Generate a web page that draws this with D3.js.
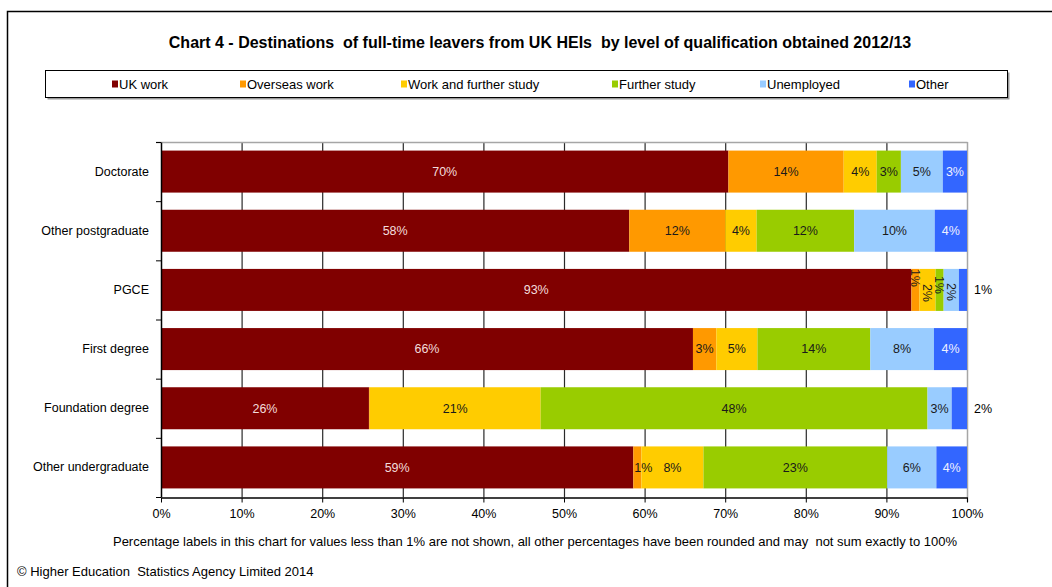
<!DOCTYPE html>
<html>
<head>
<meta charset="utf-8">
<script src="https://cdn.jsdelivr.net/npm/d3@7"></script>
<style>
  html, body { margin: 0; padding: 0; background: #fff; }
  svg text { font-family: "Liberation Sans", Arial, sans-serif; white-space: pre; }
</style>
</head>
<body>
<svg id="chart" width="1052" height="587"></svg>
<script>
// Destinations of full-time leavers from UK HEIs by level of qualification, 2012/13 (percent)
const categories = ["Doctorate", "Other postgraduate", "PGCE", "First degree", "Foundation degree", "Other undergraduate"];
const seriesNames = ["UK work", "Overseas work", "Work and further study", "Further study", "Unemployed", "Other"];
const ukWork          = [70.4, 58.1, 93.1, 66.0, 25.8, 58.6];
const overseasWork    = [14.3, 11.9,  1.0,  2.9,  0.1,  1.0];
const workAndStudy    = [ 4.1,  3.9,  2.0,  5.1, 21.2,  7.7];
const furtherStudy    = [ 3.0, 12.1,  1.0, 14.0, 48.0, 22.8];
const unemployed      = [ 5.2, 10.0,  1.9,  7.9,  3.0,  6.1];
const other           = [ 3.0,  4.0,  1.0,  4.1,  1.9,  3.8];
const xTicks = [0, 10, 20, 30, 40, 50, 60, 70, 80, 90, 100];

const seriesValues = [ukWork, overseasWork, workAndStudy, furtherStudy, unemployed, other];
const colors = ["#800000", "#FF9900", "#FFCC00", "#99CC00", "#99CCFF", "#3366FF"];

const rows = categories.map((c, i) => {
  const r = { category: c };
  seriesNames.forEach((s, j) => { r[s] = seriesValues[j][i]; });
  return r;
});
const stacked = d3.stack().keys(seriesNames)(rows);

const svg = d3.select("#chart");

// outer frame
svg.append("rect").attr("x", 7.5).attr("y", 11.5).attr("width", 1100).attr("height", 700)
  .attr("fill", "none").attr("stroke", "#000").attr("stroke-width", 1.5);

// title
svg.append("text").attr("x", 540).attr("y", 48).attr("text-anchor", "middle")
  .attr("font-size", "16px").attr("font-weight", "bold").attr("fill", "#000")
  .text("Chart 4 - Destinations  of full-time leavers from UK HEIs  by level of qualification obtained 2012/13");

// legend
const legendBox = { x: 45.5, y: 70.5, w: 962, h: 27 };
svg.append("rect").attr("x", legendBox.x + 2).attr("y", legendBox.y + 2)
  .attr("width", legendBox.w).attr("height", legendBox.h).attr("fill", "#9a9a9a");
svg.append("rect").attr("x", legendBox.x).attr("y", legendBox.y)
  .attr("width", legendBox.w).attr("height", legendBox.h).attr("fill", "#fff")
  .attr("stroke", "#000").attr("stroke-width", 1);
const legendX = [112, 240, 401, 612, 760, 909];
const legend = svg.append("g").selectAll("g").data(seriesNames).join("g")
  .attr("transform", (d, i) => `translate(${legendX[i]},84)`);
legend.append("rect").attr("x", 0).attr("y", -3.5).attr("width", 6).attr("height", 7)
  .attr("fill", (d, i) => colors[i]);
legend.append("text").attr("x", 7).attr("y", 4.5).attr("font-size", "13px").attr("fill", "#000")
  .text(d => d);

// scales
const x = d3.scaleLinear().domain([0, 100]).range([161, 967]);
const y = d3.scaleBand().domain(categories).range([142, 497]).paddingInner(0.29).paddingOuter(0.145);
const step = y.step();

// gridlines
svg.append("g").selectAll("line").data(xTicks.filter(t => t > 0 && t < 100)).join("line")
  .attr("x1", d => x(d) + 0.5).attr("x2", d => x(d) + 0.5)
  .attr("y1", 142).attr("y2", 497).attr("stroke", "#2a2a2a").attr("stroke-width", 1.2);

// plot border (top and right)
svg.append("line").attr("x1", 156).attr("x2", 967.5).attr("y1", 142.5).attr("y2", 142.5)
  .attr("stroke", "#a6a6a6").attr("stroke-width", 1.5);
svg.append("line").attr("x1", 967.5).attr("x2", 967.5).attr("y1", 142).attr("y2", 502)
  .attr("stroke", "#a6a6a6").attr("stroke-width", 1.5);

// bars
const layers = svg.append("g").selectAll("g").data(stacked).join("g")
  .attr("fill", (d, i) => colors[i]);
layers.selectAll("rect").data(d => d).join("rect")
  .attr("x", d => x(d[0]))
  .attr("width", d => x(d[1]) - x(d[0]))
  .attr("y", d => y(d.data.category))
  .attr("height", y.bandwidth());

// x axis
const xAxis = svg.append("g").attr("transform", "translate(0,497.5)")
  .call(d3.axisBottom(x).tickValues(xTicks).tickFormat(d => d + "%").tickSize(5).tickPadding(7).tickSizeOuter(0));
xAxis.select(".domain").attr("stroke", "#000").attr("stroke-width", 1.5);
xAxis.selectAll(".tick line").attr("stroke", "#000");
xAxis.selectAll("text").attr("font-size", "12.5px").attr("fill", "#000")
  .attr("font-family", "Liberation Sans, Arial, sans-serif");

// y axis: labels at category centres, ticks between categories
const yAxis = svg.append("g").attr("transform", "translate(161,0)")
  .call(d3.axisLeft(y).tickSize(0).tickPadding(12));
yAxis.select(".domain").attr("stroke", "#000").attr("stroke-width", 1.5);
yAxis.selectAll("text").attr("font-size", "12.5px").attr("fill", "#000")
  .attr("font-family", "Liberation Sans, Arial, sans-serif");
svg.append("g").selectAll("line").data(d3.range(categories.length + 1)).join("line")
  .attr("x1", 156).attr("x2", 161)
  .attr("y1", d => 142 + d * step + 0.5).attr("y2", d => 142 + d * step + 0.5)
  .attr("stroke", "#000").attr("stroke-width", 1);

// data labels
const labelNudge = {
  "Other undergraduate|Overseas work": { dx: 6, dy: 0 },
  "PGCE|Overseas work": { dx: 0, dy: -12 },
  "PGCE|Work and further study": { dx: 0, dy: 3 },
  "PGCE|Further study": { dx: 0, dy: -5 },
  "PGCE|Unemployed": { dx: 0, dy: 2 }
};
const labels = [];
stacked.forEach((layer, si) => {
  layer.forEach(d => {
    const v = d[1] - d[0];
    if (Math.round(v) < 1) return;
    const cat = d.data.category;
    const key = cat + "|" + layer.key;
    const w = x(d[1]) - x(d[0]);
    const cy = y(cat) + y.bandwidth() / 2;
    const nudge = labelNudge[key] || { dx: 0, dy: 0 };
    let lx = (x(d[0]) + x(d[1])) / 2 + nudge.dx;
    let ly = cy + nudge.dy;
    let rotate = false;
    let fill = si === 0 ? "#f3dcdc" : (si === 5 ? "#eef0ff" : "#1a1a1a");
    if (si === seriesNames.length - 1 && w < 20) {
      lx = x(100) + 16; fill = "#000";
    } else if (cat === "PGCE" && si > 0) {
      rotate = true;
    }
    labels.push({ text: Math.round(v) + "%", lx, ly, rotate, fill });
  });
});
svg.append("g").selectAll("text").data(labels).join("text")
  .attr("text-anchor", "middle")
  .attr("dy", "0.35em")
  .attr("font-size", "12.5px")
  .attr("fill", d => d.fill)
  .attr("transform", d => `translate(${d.lx},${d.ly})` + (d.rotate ? " rotate(90)" : ""))
  .text(d => d.text);

// notes
svg.append("text").attr("x", 535).attr("y", 546).attr("text-anchor", "middle")
  .attr("font-size", "13px").attr("fill", "#000")
  .text("Percentage labels in this chart for values less than 1% are not shown, all other percentages have been rounded and may  not sum exactly to 100%");
svg.append("text").attr("x", 17).attr("y", 576)
  .attr("font-size", "13px").attr("fill", "#000")
  .text("© Higher Education  Statistics Agency Limited 2014");
</script>
</body>
</html>
